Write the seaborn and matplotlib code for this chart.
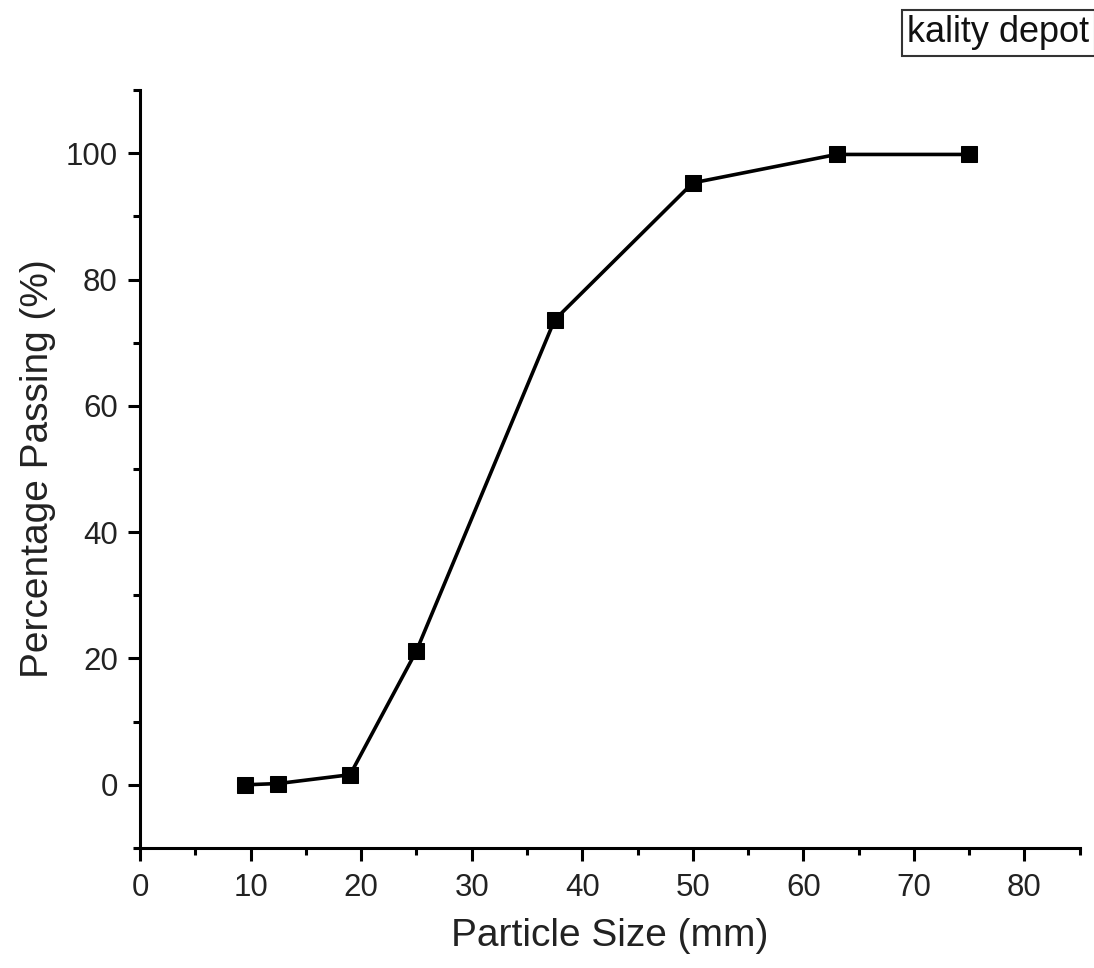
import numpy as np
import pandas as pd
import seaborn as sns
import matplotlib.pyplot as plt
from matplotlib.ticker import MultipleLocator

sns.set_theme(style="ticks")
plt.rcParams["font.family"] = ["Liberation Sans", "DejaVu Sans"]

# sieve sizes (mm) and cumulative passing (%)
particle_size = [9.5, 12.5, 19, 25, 37.5, 50, 63, 75]
percent_passing = [0.0, 0.2, 1.6, 21.2, 73.6, 95.3, 99.8, 99.8]
sample_name = "kality depot"

df = pd.DataFrame({"size": particle_size, "passing": percent_passing})

fig = plt.figure(figsize=(10.94, 9.68), dpi=100)
ax = fig.add_axes([0.128, 0.124, 0.859, 0.783])

sns.lineplot(data=df, x="size", y="passing", ax=ax, color="black",
             marker="s", markersize=11, linewidth=2.6, markeredgecolor="black")

ax.set_xlim(0, 85)
ax.set_ylim(-10, 110)
ax.xaxis.set_major_locator(MultipleLocator(10))
ax.xaxis.set_minor_locator(MultipleLocator(5))
ax.yaxis.set_major_locator(MultipleLocator(20))
ax.yaxis.set_minor_locator(MultipleLocator(10))

for side in ["top", "right"]:
    ax.spines[side].set_visible(False)
for side in ["left", "bottom"]:
    ax.spines[side].set_linewidth(2.2)
    ax.spines[side].set_color("black")

ax.tick_params(which="major", direction="out", length=9, width=2.2,
               labelsize=22.5, colors="black", labelcolor="#222222", pad=7)
ax.tick_params(axis="x", which="major", pad=9)
ax.tick_params(which="minor", direction="out", length=5, width=2.2, colors="black")

ax.set_xlabel("Particle Size (mm)", fontsize=28, color="#222222", labelpad=11)
ax.set_ylabel("Percentage Passing (%)", fontsize=28, color="#222222", labelpad=7)

fig.text(0.996, 0.966, sample_name, ha="right", va="center", fontsize=26,
         color="#111111",
         bbox=dict(boxstyle="square,pad=0.15", facecolor="white",
                   edgecolor="#333333", linewidth=1.5))

plt.savefig("out.png", dpi=100)
plt.close()
